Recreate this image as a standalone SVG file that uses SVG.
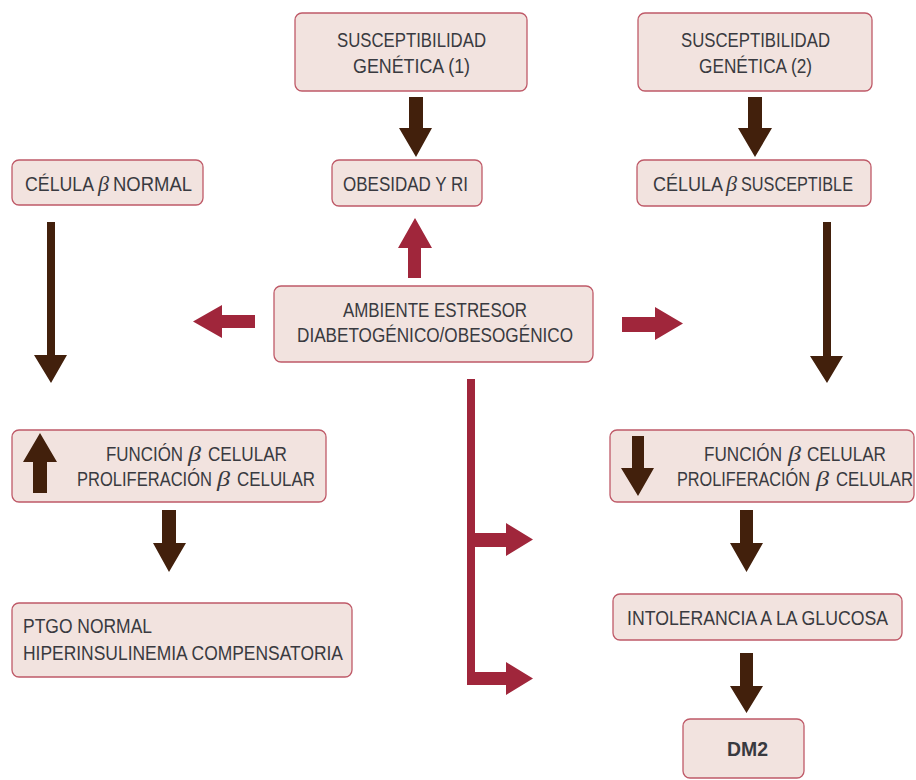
<svg xmlns="http://www.w3.org/2000/svg" width="916" height="780" viewBox="0 0 916 780">
<style>
.box{fill:#f2e3df;stroke:#bf5a68;stroke-width:1.3}
.t{font-family:"Liberation Sans",Arial,sans-serif;font-size:20px;fill:#393a40;text-anchor:middle}
.l{text-anchor:start}
.b{font-family:"Liberation Serif","Times New Roman",serif;font-style:italic;font-size:21px;fill:#393a40;text-anchor:start}
.brown{fill:#42200c}
.red{fill:#a0263b}
</style>
<rect width="916" height="780" fill="#ffffff"/>
<g id="sg1"><rect class="box" x="295" y="13" width="232" height="78" rx="7"/>
<text class="t" x="411.5" y="47" textLength="149" lengthAdjust="spacingAndGlyphs">SUSCEPTIBILIDAD</text>
<text class="t" x="411.5" y="73" textLength="117" lengthAdjust="spacingAndGlyphs">GENÉTICA (1)</text></g>
<g id="sg2"><rect class="box" x="638" y="13" width="234" height="78" rx="7"/>
<text class="t" x="755.5" y="47" textLength="149" lengthAdjust="spacingAndGlyphs">SUSCEPTIBILIDAD</text>
<text class="t" x="755.5" y="73" textLength="113" lengthAdjust="spacingAndGlyphs">GENÉTICA (2)</text></g>
<g id="obesidad"><rect class="box" x="332" y="160" width="150" height="46" rx="7"/>
<text class="t" x="405.5" y="191" textLength="125" lengthAdjust="spacingAndGlyphs">OBESIDAD Y RI</text></g>
<g id="celula-normal"><rect class="box" x="12" y="160" width="191" height="45" rx="7"/>
<text class="t l" x="25" y="191" textLength="69" lengthAdjust="spacingAndGlyphs">CÉLULA</text>
<text class="b" x="98" y="191" textLength="11" lengthAdjust="spacingAndGlyphs">β</text>
<text class="t l" x="113" y="191" textLength="79" lengthAdjust="spacingAndGlyphs">NORMAL</text></g>
<g id="celula-susceptible"><rect class="box" x="637" y="160" width="234" height="46" rx="7"/>
<text class="t l" x="653" y="191" textLength="70" lengthAdjust="spacingAndGlyphs">CÉLULA</text>
<text class="b" x="726" y="191" textLength="11" lengthAdjust="spacingAndGlyphs">β</text>
<text class="t l" x="741" y="191" textLength="112" lengthAdjust="spacingAndGlyphs">SUSCEPTIBLE</text></g>
<g id="ambiente"><rect class="box" x="274" y="286" width="319" height="76" rx="7"/>
<text class="t" x="435" y="317" textLength="184" lengthAdjust="spacingAndGlyphs">AMBIENTE ESTRESOR</text>
<text class="t" x="435" y="342" textLength="276" lengthAdjust="spacingAndGlyphs">DIABETOGÉNICO/OBESOGÉNICO</text></g>
<g id="funcion-izq"><rect class="box" x="12" y="430" width="314" height="72" rx="7"/>
<path class="brown" d="M33,493 V462 H23 L40,433 L57,462 H47 V493 Z"/>
<text class="t l" x="106" y="461" textLength="77" lengthAdjust="spacingAndGlyphs">FUNCIÓN</text>
<text class="b" x="188" y="461" textLength="13" lengthAdjust="spacingAndGlyphs">β</text>
<text class="t l" x="208" y="461" textLength="79" lengthAdjust="spacingAndGlyphs">CELULAR</text>
<text class="t l" x="77" y="486" textLength="135" lengthAdjust="spacingAndGlyphs">PROLIFERACIÓN</text>
<text class="b" x="217" y="486" textLength="13" lengthAdjust="spacingAndGlyphs">β</text>
<text class="t l" x="237" y="486" textLength="78" lengthAdjust="spacingAndGlyphs">CELULAR</text></g>
<g id="funcion-der"><rect class="box" x="610" y="430" width="304" height="72" rx="7"/>
<path class="brown" d="M632,436 H644 V468 H654 L638,496 L621,468 H632 Z"/>
<text class="t l" x="704" y="461" textLength="78" lengthAdjust="spacingAndGlyphs">FUNCIÓN</text>
<text class="b" x="788" y="461" textLength="13" lengthAdjust="spacingAndGlyphs">β</text>
<text class="t l" x="807" y="461" textLength="79" lengthAdjust="spacingAndGlyphs">CELULAR</text>
<text class="t l" x="677" y="486" textLength="133" lengthAdjust="spacingAndGlyphs">PROLIFERACIÓN</text>
<text class="b" x="816" y="486" textLength="13" lengthAdjust="spacingAndGlyphs">β</text>
<text class="t l" x="836" y="486" textLength="77" lengthAdjust="spacingAndGlyphs">CELULAR</text></g>
<g id="ptgo"><rect class="box" x="12" y="603" width="340" height="74" rx="7"/>
<text class="t l" x="23" y="633" textLength="129" lengthAdjust="spacingAndGlyphs">PTGO NORMAL</text>
<text class="t l" x="23" y="660" textLength="320" lengthAdjust="spacingAndGlyphs">HIPERINSULINEMIA COMPENSATORIA</text></g>
<g id="intolerancia"><rect class="box" x="613" y="594" width="289" height="46" rx="7"/>
<text class="t" x="757.5" y="625" textLength="261" lengthAdjust="spacingAndGlyphs">INTOLERANCIA A LA GLUCOSA</text></g>
<g id="dm2"><rect class="box" x="683" y="719" width="121" height="59" rx="7"/>
<text class="t" x="747.5" y="756" font-weight="bold" textLength="41" lengthAdjust="spacingAndGlyphs">DM2</text></g>
<g id="connectors">
<path class="brown" d="M409,97 H423 V128 H432 L416,157 L399,128 H409 Z"/>
<path class="brown" d="M748,97 H762 V128 H772 L755,157 L738,128 H748 Z"/>
<path class="brown" d="M47,222 H55 V355 H67 L51,383 L34,355 H47 Z"/>
<path class="brown" d="M823,222 H831 V356 H843 L827,383 L810,356 H823 Z"/>
<path class="brown" d="M162,510 H176 V543 H186 L169,572 L153,543 H162 Z"/>
<path class="brown" d="M740,510 H753 V543 H763 L746.5,572 L730,543 H740 Z"/>
<path class="brown" d="M740,653 H753 V686 H763 L746.5,713 L730,686 H740 Z"/>
<path class="red" d="M408,278 V248 H398 L415,218 L432,248 H421 V278 Z"/>
<path class="red" d="M255,315 V328 H222 V338 L193,321.5 L222,305 V315 Z"/>
<path class="red" d="M622,317 H655 V307 L683,323.5 L655,340 V332 H622 Z"/>
<path class="red" d="M467,379 H475 V533 H506 V523 L533,539.5 L506,556 V547 H475 V672 H506 V662 L533,678.5 L506,695 V685 H467 Z"/>
</g>
</svg>
